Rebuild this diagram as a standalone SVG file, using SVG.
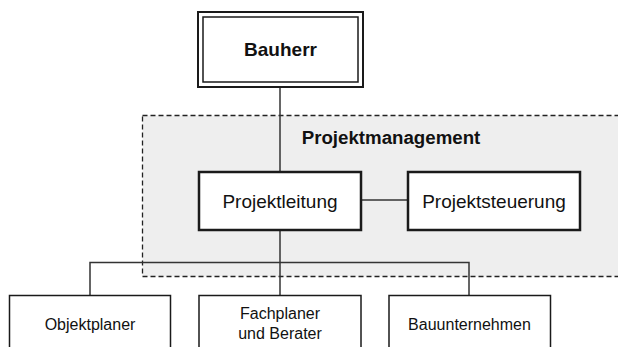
<svg xmlns="http://www.w3.org/2000/svg" width="618" height="347" viewBox="0 0 618 347">
<style>
.box{fill:#fff;stroke:#1a1a1a;}
.t{font-family:"Liberation Sans",Arial,sans-serif;fill:#111;text-anchor:middle;}
.line{stroke:#333;stroke-width:1.5;fill:none;}
</style>
<rect width="618" height="347" fill="#fff"/>
<g id="projektmanagement">
<rect x="142.5" y="115.5" width="490" height="161" fill="#eeeeee" stroke="#222" stroke-width="1.3" stroke-dasharray="5,3"/>
<text class="t" x="391" y="144" font-size="18.7" font-weight="bold">Projektmanagement</text>
</g>
<g id="connectors">
<line class="line" x1="280" y1="87" x2="280" y2="172"/>
<line class="line" x1="361" y1="200" x2="408" y2="200"/>
<line class="line" x1="280" y1="230" x2="280" y2="295"/>
<polyline class="line" points="90,295 90,262.5 469,262.5 469,295"/>
</g>
<g id="bauherr">
<rect class="box" x="198" y="12" width="165" height="75" stroke-width="2"/>
<rect x="203" y="17" width="155" height="65" fill="none" stroke="#1a1a1a" stroke-width="1.5"/>
<text class="t" x="280.5" y="56" font-size="19" font-weight="bold">Bauherr</text>
</g>
<g id="projektleitung">
<rect class="box" x="199" y="172" width="162" height="58" stroke-width="2.5"/>
<text class="t" x="280" y="208" font-size="19">Projektleitung</text>
</g>
<g id="projektsteuerung">
<rect class="box" x="408" y="172" width="172" height="58" stroke-width="2.5"/>
<text class="t" x="494" y="208" font-size="19">Projektsteuerung</text>
</g>
<g id="objektplaner">
<rect class="box" x="9.5" y="295.5" width="161" height="60" stroke-width="1.5"/>
<text class="t" x="90" y="330" font-size="16">Objektplaner</text>
</g>
<g id="fachplaner">
<rect class="box" x="199" y="295.5" width="162" height="60" stroke-width="1.5"/>
<text class="t" x="280" y="319" font-size="16">Fachplaner</text>
<text class="t" x="280" y="339" font-size="16">und Berater</text>
</g>
<g id="bauunternehmen">
<rect class="box" x="389" y="295.5" width="161.5" height="60" stroke-width="1.5"/>
<text class="t" x="469.5" y="330" font-size="16">Bauunternehmen</text>
</g>
</svg>
